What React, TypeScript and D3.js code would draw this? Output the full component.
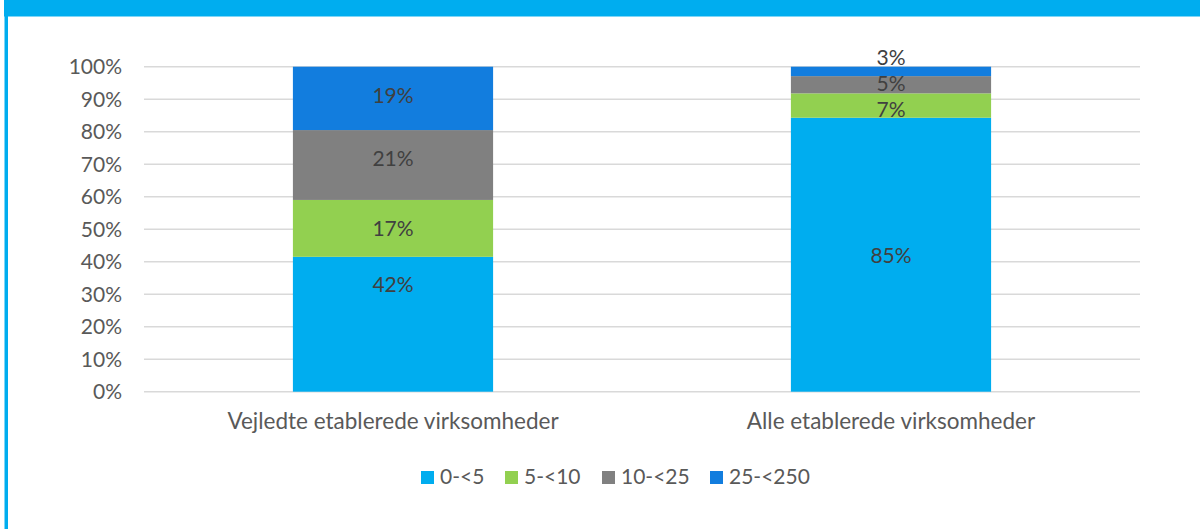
import React from "react";
import * as d3 from "d3";

const categories = ["Vejledte etablerede virksomheder", "Alle etablerede virksomheder"];
const seriesNames = ["0-<5", "5-<10", "10-<25", "25-<250"];
const colors = ["#00ADEF", "#92D050", "#808080", "#127DDE"];
// share (%) per series, one entry per category
const s0 = [41.5, 84.3];
const s1 = [17.5, 7.5];
const s2 = [21.5, 5.3];
const s3 = [19.5, 2.9];
const labels0 = ["42%", "85%"];
const labels1 = ["17%", "7%"];
const labels2 = ["21%", "5%"];
const labels3 = ["19%", "3%"];
// value (on the % axis) where each data label is centred
const labelAt0 = [33.1, 41.8];
const labelAt1 = [50.3, 87.0];
const labelAt2 = [71.9, 95.0];
const labelAt3 = [91.3, 102.7];
const yTicks = [0, 10, 20, 30, 40, 50, 60, 70, 80, 90, 100];

const W = 1200;
const H = 529;
const FONT = "Lato, 'Open Sans', sans-serif";

export default function App() {
  const series = [s0, s1, s2, s3];
  const labels = [labels0, labels1, labels2, labels3];
  const labelAt = [labelAt0, labelAt1, labelAt2, labelAt3];

  const x = d3
    .scaleBand<string>()
    .domain(categories)
    .range([144, 1140])
    .paddingInner(0.598)
    .paddingOuter(0.299);
  const y = d3.scaleLinear().domain([0, 100]).range([391.7, 66.7]);

  const table = categories.map((c, i) => {
    const row: any = { cat: c };
    seriesNames.forEach((s, k) => (row[s] = series[k][i]));
    return row;
  });
  const stacked = d3.stack<any>().keys(seriesNames)(table);

  const legendX = [421, 505, 602, 710];

  return (
    <svg
      width={W}
      height={H}
      style={{ position: "absolute", left: 0, top: 0, background: "#fff" }}
      fontFamily={FONT}
    >
      <rect x={0} y={0} width={W} height={H} fill="#fff" />
      {/* frame */}
      <rect x={4} y={0} width={W - 4} height={16.5} fill="#00ADEF" />
      <rect x={4.5} y={0} width={3.5} height={H} fill="#00ADEF" />

      {/* gridlines */}
      {yTicks.map((t) => (
        <line
          key={t}
          x1={144}
          x2={1140}
          y1={y(t)}
          y2={y(t)}
          stroke="#d9d9d9"
          strokeWidth={1.5}
        />
      ))}
      {yTicks.map((t) => (
        <text
          key={"t" + t}
          x={122}
          y={y(t)}
          dy="0.36em"
          textAnchor="end"
          fontSize={21}
          fill="#595959"
        >
          {t + "%"}
        </text>
      ))}

      {/* bars */}
      {stacked.map((layer, k) =>
        layer.map((d, i) => (
          <rect
            key={k + "-" + i}
            x={x(categories[i])}
            width={x.bandwidth()}
            y={y(d[1])}
            height={y(d[0]) - y(d[1])}
            fill={colors[k]}
          />
        ))
      )}

      {/* data labels */}
      {labels.map((arr, k) =>
        arr.map((lab, i) => (
          <text
            key={"l" + k + "-" + i}
            x={(x(categories[i]) as number) + x.bandwidth() / 2}
            y={y(labelAt[k][i])}
            dy="0.36em"
            textAnchor="middle"
            fontSize={21}
            fill="#404040"
          >
            {lab}
          </text>
        ))
      )}

      {/* category labels */}
      {categories.map((c) => (
        <text
          key={c}
          x={(x(c) as number) + x.bandwidth() / 2}
          y={429}
          textAnchor="middle"
          fontSize={22.5}
          fill="#595959"
        >
          {c}
        </text>
      ))}

      {/* legend */}
      {seriesNames.map((s, k) => (
        <g key={s}>
          <rect x={legendX[k]} y={471} width={13} height={13} fill={colors[k]} />
          <text x={legendX[k] + 19} y={484} fontSize={21} fill="#595959">
            {s}
          </text>
        </g>
      ))}
    </svg>
  );
}
